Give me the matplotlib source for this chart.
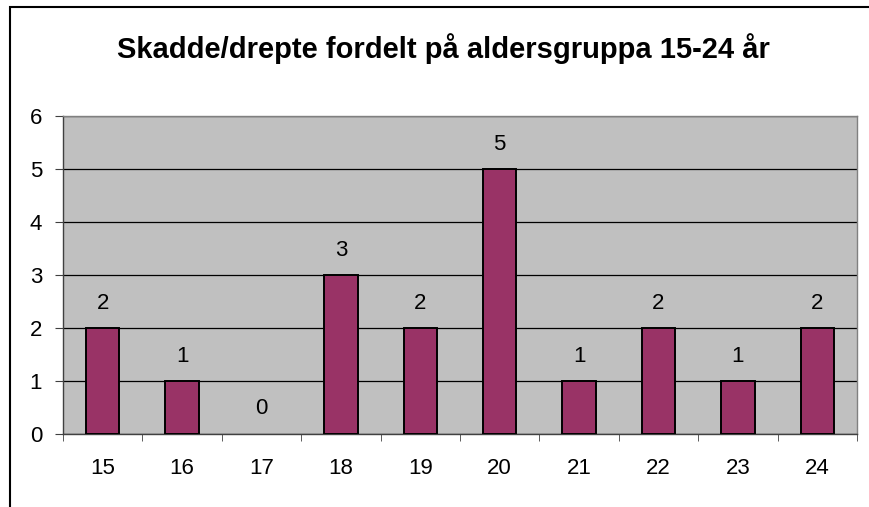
import matplotlib
matplotlib.use("Agg")
import matplotlib.pyplot as plt
from matplotlib.patches import Rectangle
import numpy as np

ages = ["15", "16", "17", "18", "19", "20", "21", "22", "23", "24"]
counts = [2, 1, 0, 3, 2, 5, 1, 2, 1, 2]
title = "Skadde/drepte fordelt på aldersgruppa 15-24 år"

plt.rcParams['font.family'] = ['Liberation Sans', 'DejaVu Sans']

W, H = 870, 507
fig = plt.figure(figsize=(W/100, H/100), dpi=100)
fig.patch.set_facecolor('white')

# outer chart border
fig.patches.append(Rectangle((10/W, -0.1), 1.2, 1 - 7/H + 0.1, transform=fig.transFigure,
                             fill=False, edgecolor='black', linewidth=1.5))

left, right, top, bottom = 63, 857, 116, 434
ax = fig.add_axes([left/W, 1 - bottom/H, (right-left)/W, (bottom-top)/H])
ax.set_facecolor('#C0C0C0')

x = np.arange(len(ages))
edges = ['black' if v > 0 else 'none' for v in counts]
ax.bar(x, counts, width=0.42, color='#993366', edgecolor=edges, linewidth=1.4, zorder=3)
for xi, v in zip(x, counts):
    ax.annotate(str(v), (xi, v), xytext=(0, 18), textcoords='offset points',
                ha='center', va='center', fontsize=16)

ax.set_xlim(-0.5, len(ages) - 0.5)
ax.set_ylim(0, 6)
ax.set_yticks(range(0, 7))
ax.yaxis.grid(True, color='black', linewidth=0.9, zorder=1)
ax.set_axisbelow(True)

ax.set_xticks(x)
ax.set_xticklabels(ages)
ax.set_xticks(np.arange(-0.5, len(ages)), minor=True)
ax.tick_params(axis='x', which='major', length=0, pad=17, labelsize=16)
ax.tick_params(axis='x', which='minor', length=5, direction='out', color='#404040')
ax.tick_params(axis='y', length=6, direction='out', labelsize=16, pad=9, color='#404040')

for s in ['top', 'right']:
    ax.spines[s].set_color('#808080')
    ax.spines[s].set_linewidth(1)
for s in ['left', 'bottom']:
    ax.spines[s].set_color('#404040')
    ax.spines[s].set_linewidth(1)

fig.text(443/W, 1 - 49/H, title, ha='center', va='center', fontsize=21, fontweight='bold')

fig.savefig('out.png', dpi=100)
